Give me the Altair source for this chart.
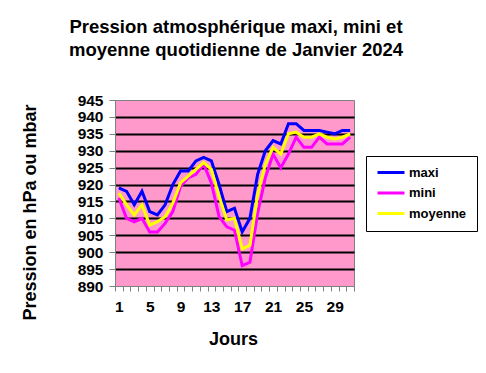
import altair as alt
import pandas as pd

days = list(range(1, 32))
maxi = [919, 918, 914, 918, 912, 911, 914, 920, 924, 924, 927, 928, 927, 920, 912, 913,
        906, 910, 923, 930, 933, 932, 938, 938, 936, 936, 936, 935.5, 935, 936, 936]
mini = [916, 910, 909, 910, 906, 906, 908.5, 912, 919.5, 922, 923, 926, 920.5, 910.5, 907.5, 906.5,
        896, 897, 911.5, 922, 929, 925, 929, 934, 931, 931, 934, 932, 932, 932, 934]
moyenne = [917.5, 914, 911, 914, 908, 909, 910.5, 914.5, 920.5, 922.5, 924.5, 926.5, 924.5, 916.5, 909.5, 910,
           901, 902, 917, 926, 931, 929, 935, 935.5, 934, 934, 935, 934, 933.5, 934, 935]
series_names = ["maxi", "mini", "moyenne"]
series_colors = ["#0000FF", "#FF00FF", "#FFFF00"]
x_labels = [1, 5, 9, 13, 17, 21, 25, 29]
y_ticks = list(range(890, 950, 5))

rows = []
for name, vals in zip(series_names, [maxi, mini, moyenne]):
    for d, v in zip(days, vals):
        rows.append({"jour": d, "pression": v, "serie": name})
df = pd.DataFrame(rows)

FONT = "Liberation Sans"
tick_vals = [d - 0.5 for d in days] + [days[-1] + 0.5]
x_values = sorted(tick_vals + x_labels)
label_list = "[" + ",".join(str(v) for v in x_labels) + "]"

chart = alt.Chart(df).mark_line(strokeWidth=3, strokeJoin="miter").encode(
    x=alt.X("jour:Q",
            scale=alt.Scale(domain=[0.5, 31.5], nice=False, zero=False),
            axis=alt.Axis(
                values=x_values,
                labelExpr=f"indexof({label_list}, datum.value) >= 0 ? datum.label : ''",
                tickOpacity={"condition": {"test": "datum.value % 1 != 0", "value": 1}, "value": 0},
                labelOverlap=False, labelFlush=False, labelBound=False,
                tickSize=5, tickColor="#808080", domainColor="#808080",
                labelFont=FONT, labelFontSize=15.5, labelFontWeight="bold", labelColor="black",
                labelPadding=8, grid=False,
                title="Jours", titleFont=FONT, titleFontSize=18, titleFontWeight="bold",
                titleColor="black", titleX=118, titleY=58, titleBaseline="alphabetic",
                titleAlign="center")),
    y=alt.Y("pression:Q",
            scale=alt.Scale(domain=[890, 945], nice=False, zero=False),
            axis=alt.Axis(
                values=y_ticks,
                tickSize=6, tickColor="#808080", domainColor="#808080",
                labelFont=FONT, labelFontSize=15.5, labelFontWeight="bold", labelColor="black",
                labelPadding=6,
                grid=True, gridColor="black", gridWidth=2,
                gridOpacity={"condition": {"test": "datum.value > 890 && datum.value < 945", "value": 1}, "value": 0},
                title="Pression en hPa ou mbar", titleFont=FONT, titleFontSize=18,
                titleFontWeight="bold", titleColor="black", titleAngle=270,
                titleX=-85, titleY=112, titleBaseline="middle", titleAlign="center")),
    color=alt.Color("serie:N",
                    scale=alt.Scale(domain=series_names, range=series_colors),
                    legend=alt.Legend(
                        title=None, orient="none", legendX=251, legendY=56,
                        symbolType="stroke", symbolSize=729, symbolStrokeWidth=3,
                        clipHeight=13,
                        labelFont=FONT, labelFontSize=13, labelFontWeight="bold",
                        labelColor="black", labelOffset=3, rowPadding=6.5,
                        padding=10, strokeColor="black", fillColor="white",
                        labelLimit=200)),
).properties(
    width=239,
    height=186,
    background="white",
    padding={"left": 107, "top": 92, "right": 124, "bottom": 79},
    autosize=alt.AutoSizeParams(type="none"),
    title=alt.TitleParams(
        text=["Pression atmosphérique maxi, mini et", "moyenne quotidienne de Janvier 2024"],
        font=FONT, fontSize=18.5, fontWeight="bold", color="black",
        lineHeight=22.5, anchor="middle", offset=34, dx=1.5),
).configure_view(
    fill="#FF99CC", stroke="#808080", strokeWidth=1
)

chart.save("out.html", embed_options={"renderer": "svg", "actions": False})
